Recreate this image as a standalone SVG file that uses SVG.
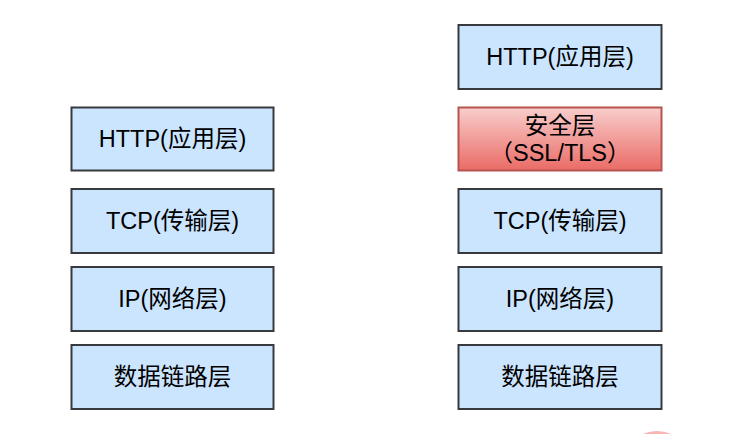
<svg xmlns="http://www.w3.org/2000/svg" width="736" height="434" viewBox="0 0 736 434">
<style>
.box{fill:#cce5ff;stroke:#36393d;stroke-width:2}
.sec{fill:url(#red);stroke:#b85450;stroke-width:2}
text{font-family:"Liberation Sans","Noto Sans CJK SC",sans-serif;font-size:23.5px;fill:#000;text-anchor:middle;dominant-baseline:central}
</style>
<defs>
<linearGradient id="red" x1="0" y1="0" x2="0" y2="1">
<stop offset="0" stop-color="#f8cecc"/>
<stop offset="1" stop-color="#ea6b66"/>
</linearGradient>
</defs>
<rect width="736" height="434" fill="#fff"/>
<g id="left-http"><rect class="box" x="71.5" y="107.5" width="202" height="63"/><text x="172.5" y="139">HTTP(应用层)</text></g>
<g id="left-tcp"><rect class="box" x="71.5" y="189" width="202" height="64"/><text x="172.5" y="221">TCP(传输层)</text></g>
<g id="left-ip"><rect class="box" x="71.5" y="267" width="202" height="64"/><text x="172.5" y="299">IP(网络层)</text></g>
<g id="left-link"><rect class="box" x="71.5" y="345" width="202" height="64"/><text x="172.5" y="377">数据链路层</text></g>
<g id="right-http"><rect class="box" x="458.5" y="25" width="203" height="64"/><text x="560" y="57">HTTP(应用层)</text></g>
<g id="right-sec"><rect class="sec" x="458.5" y="107.5" width="203" height="63"/><text x="560" y="126">安全层</text><text x="560" y="153">（SSL/TLS）</text></g>
<g id="right-tcp"><rect class="box" x="458.5" y="189" width="203" height="64"/><text x="560" y="221">TCP(传输层)</text></g>
<g id="right-ip"><rect class="box" x="458.5" y="267" width="203" height="64"/><text x="560" y="299">IP(网络层)</text></g>
<g id="right-link"><rect class="box" x="458.5" y="345" width="203" height="64"/><text x="560" y="377">数据链路层</text></g>
<g id="connectors"></g>
<circle cx="657" cy="466" r="35" fill="#f9b4b4"/>
</svg>
